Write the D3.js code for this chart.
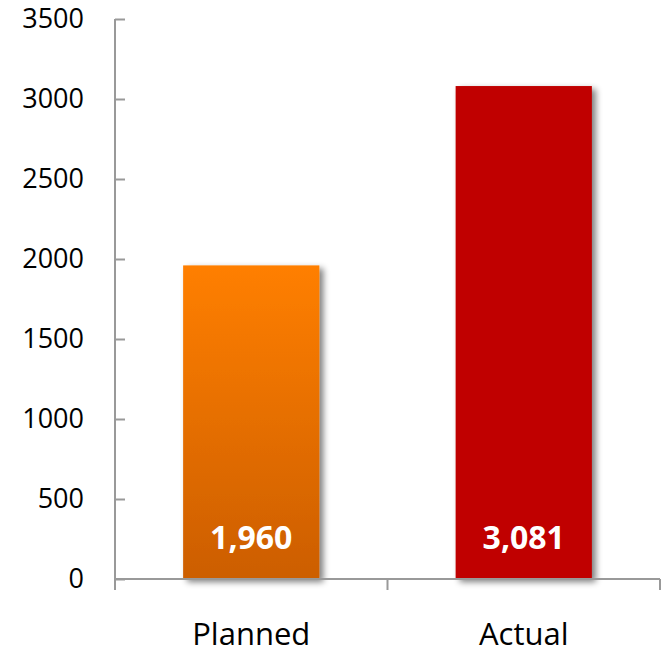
<!DOCTYPE html>
<html>
<head>
<meta charset="utf-8">
<script src="https://d3js.org/d3.v7.min.js"></script>
<style>
  body { margin: 0; background: #fff; }
  svg text { font-family: "Open Sans", "Liberation Sans", sans-serif; }
</style>
</head>
<body>
<svg id="chart" width="663" height="653"></svg>
<script>
const categories = ['Planned', 'Actual'];
const values = [1960, 3081];
const tickValues = [0, 500, 1000, 1500, 2000, 2500, 3000, 3500];

const svg = d3.select('#chart');
const mLeft = 115, mRight = 660, mTop = 19, mBottom = 579;

const x = d3.scaleBand()
  .domain(categories)
  .range([mLeft, mRight])
  .paddingInner(0.5)
  .paddingOuter(0.25);

const y = d3.scaleLinear()
  .domain([0, 3500])
  .range([mBottom, mTop]);

// gradient + shadow
const defs = svg.append('defs');
const grad = defs.append('linearGradient')
  .attr('id', 'orange')
  .attr('x1', 0).attr('y1', 0).attr('x2', 0).attr('y2', 1);
grad.append('stop').attr('offset', '0%').attr('stop-color', '#ff7f00');
grad.append('stop').attr('offset', '100%').attr('stop-color', '#cc5e00');

const shadow = defs.append('filter')
  .attr('id', 'shadow')
  .attr('x', '-20%').attr('y', '-20%').attr('width', '150%').attr('height', '150%');
shadow.append('feGaussianBlur').attr('in', 'SourceAlpha').attr('stdDeviation', 3);
shadow.append('feOffset').attr('dx', 4).attr('dy', 3).attr('result', 'blur');
shadow.append('feComponentTransfer').append('feFuncA').attr('type', 'linear').attr('slope', 0.5);
const merge = shadow.append('feMerge');
merge.append('feMergeNode');
merge.append('feMergeNode').attr('in', 'SourceGraphic');

const fills = ['url(#orange)', '#c00000'];

// y axis
const yAxis = svg.append('g')
  .attr('transform', `translate(${mLeft},0)`)
  .call(d3.axisLeft(y).tickValues(tickValues).tickFormat(d3.format('d')).tickSize(-10).tickPadding(31));
yAxis.select('.domain').attr('stroke', '#999').attr('stroke-width', 2).attr('d', `M0,${mTop}V${mBottom}`);
yAxis.selectAll('.tick line').attr('stroke', '#999').attr('stroke-width', 2);
yAxis.selectAll('.tick text')
  .attr('fill', '#000')
  .style('font-size', '27px');

// bars
svg.selectAll('.bar')
  .data(values)
  .join('rect')
  .attr('class', 'bar')
  .attr('x', (d, i) => x(categories[i]))
  .attr('y', d => y(d))
  .attr('width', x.bandwidth())
  .attr('height', d => y(0) - y(d))
  .attr('fill', (d, i) => fills[i])
  .attr('filter', 'url(#shadow)');

// x axis
const xAxis = svg.append('g').attr('transform', `translate(0,${mBottom})`);
xAxis.append('line')
  .attr('x1', mLeft).attr('x2', mRight)
  .attr('stroke', '#999').attr('stroke-width', 2);
xAxis.selectAll('.xt')
  .data([mLeft, ...categories.map(c => x(c) + x.bandwidth() + x.step() * x.paddingInner() / 2)])
  .join('line')
  .attr('x1', d => d).attr('x2', d => d)
  .attr('y1', 0).attr('y2', 11)
  .attr('stroke', '#999').attr('stroke-width', 2);
xAxis.selectAll('.xl')
  .data(categories)
  .join('text')
  .attr('x', d => x(d) + x.bandwidth() / 2)
  .attr('y', 66)
  .attr('text-anchor', 'middle')
  .style('font-size', '31px')
  .attr('fill', '#000')
  .text(d => d);

// value labels
svg.selectAll('.val')
  .data(values)
  .join('text')
  .attr('x', (d, i) => x(categories[i]) + x.bandwidth() / 2)
  .attr('y', 549)
  .attr('text-anchor', 'middle')
  .attr('fill', '#fff')
  .style('font-size', '32px')
  .style('font-weight', 'bold')
  .text(d => d3.format(',')(d));
</script>
</body>
</html>
